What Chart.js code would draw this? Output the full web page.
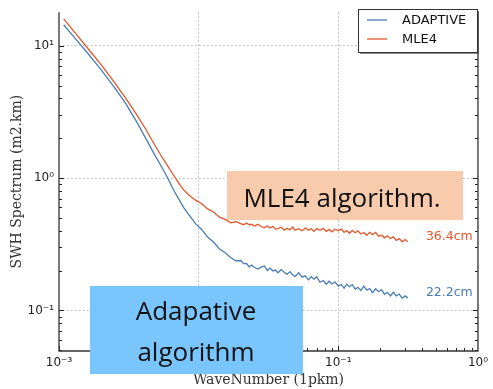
<!DOCTYPE html>
<html>
<head>
<meta charset="utf-8">
<script src="https://cdn.jsdelivr.net/npm/chart.js@4.4.1/dist/chart.umd.min.js"></script>
<style>
  html, body { margin: 0; padding: 0; background: #fff; }
  #wrap { width: 493px; height: 389px; }
</style>
</head>
<body>
<div id="wrap"><canvas id="spectrumChart" width="493" height="389"></canvas></div>
<script>
// wavenumber (1/km) and SWH spectra
const wavenumber = [0.00108,0.0013,0.0016,0.002,0.0025,0.003,0.0036,0.0042,0.0048,0.0054,
  0.006,0.0066,0.0072,0.0078,0.0086,0.0095,0.0105,0.0116,0.0128,0.0141,
  0.0155,0.017,0.0185,0.02,0.021,0.022,0.023,0.024,0.025,0.0265,
  0.028,0.0295,0.031,0.0325,0.034,0.0355,0.037,0.039,0.041,0.043,
  0.045,0.047,0.049,0.052,0.055,0.058,0.061,0.064,0.067,0.07,
  0.074,0.078,0.082,0.086,0.09,0.095,0.1,0.105,0.11,0.115,
  0.12,0.126,0.132,0.138,0.145,0.152,0.16,0.168,0.176,0.185,
  0.194,0.204,0.214,0.225,0.236,0.248,0.26,0.273,0.287,0.3,
  0.315];
const adaptive = [14.39,11.41,8.81,6.60,4.83,3.67,2.66,1.975,1.523,1.229,
  1.0,0.816,0.693,0.601,0.521,0.453,0.409,0.3584,0.3272,0.2916,
  0.2727,0.2498,0.2373,0.2385,0.2258,0.2262,0.2137,0.2204,0.2119,0.2055,
  0.2123,0.2167,0.2006,0.2090,0.1989,0.2017,0.1925,0.2037,0.1941,0.1873,
  0.1965,0.1863,0.1806,0.1928,0.1785,0.1825,0.1703,0.1799,0.1721,0.1797,
  0.1634,0.1683,0.1579,0.1663,0.1585,0.1640,0.1526,0.1571,0.1472,0.1579,
  0.1510,0.1568,0.1452,0.1495,0.1415,0.1529,0.1425,0.1464,0.1365,0.1457,
  0.1384,0.1437,0.1323,0.1372,0.1285,0.1370,0.1287,0.1330,0.1235,0.1289,
  0.1244];
const mle4 = [15.93,12.55,9.60,7.19,5.26,4.02,3.01,2.317,1.809,1.467,
  1.235,1.055,0.915,0.814,0.738,0.681,0.640,0.585,0.554,0.507,
  0.4868,0.4584,0.4678,0.4529,0.4444,0.4584,0.4429,0.4474,0.4338,0.4474,
  0.4308,0.4213,0.4338,0.4191,0.4323,0.4113,0.4148,0.4249,0.4043,0.4177,
  0.4064,0.4264,0.4036,0.4141,0.3995,0.4191,0.4043,0.4141,0.3954,0.4148,
  0.4029,0.4177,0.3961,0.4093,0.3927,0.4106,0.4002,0.4113,0.3887,0.4016,
  0.3827,0.4016,0.3867,0.3995,0.3781,0.3880,0.3697,0.3893,0.3736,0.3887,
  0.3640,0.3703,0.3535,0.3659,0.3493,0.3597,0.3381,0.3487,0.3301,0.3434,
  0.3307];

const seriesNames = ['ADAPTIVE', 'MLE4'];
const seriesColors = ['#4a7db3', '#e5562b'];
const endLabels = ['22.2cm', '36.4cm'];

const xDecades = [0.001, 0.01, 0.1, 1];
const yDecades = [0.01, 0.1, 1, 10];
const xTickLabels = ['10⁻³', '10⁻²', '10⁻¹', '10⁰'];
const yTickLabels = ['10⁻²', '10⁻¹', '10⁰', '10¹'];

function withMinors(decades) {
  const out = [];
  decades.forEach(d => { for (let m = 1; m <= 9; m++) out.push(+(d * m).toPrecision(3)); });
  return out;
}
function isMajor(v) {
  const l = Math.log10(v);
  return Math.abs(l - Math.round(l)) < 1e-6;
}

// inward tick marks, axis frame, legend, end labels, overlay boxes
const decorations = {
  id: 'decorations',
  afterDatasetsDraw(chart) {
    const { ctx, chartArea: a, scales } = chart;
    ctx.save();
    ctx.strokeStyle = '#222';
    ctx.lineWidth = 1;
    scales.y.ticks.forEach(t => {
      const y = Math.round(scales.y.getPixelForValue(t.value)) + 0.5;
      if (y < a.top || y > a.bottom) return;
      const len = isMajor(t.value) ? 5 : 3;
      ctx.beginPath();
      ctx.moveTo(a.left, y); ctx.lineTo(a.left + len, y);
      ctx.moveTo(a.right, y); ctx.lineTo(a.right - len, y);
      ctx.stroke();
    });
    scales.x.ticks.forEach(t => {
      const x = Math.round(scales.x.getPixelForValue(t.value)) + 0.5;
      if (x < a.left || x > a.right) return;
      const len = isMajor(t.value) ? 5 : 3;
      ctx.beginPath();
      ctx.moveTo(x, a.bottom); ctx.lineTo(x, a.bottom - len);
      ctx.stroke();
    });
    ctx.lineWidth = 1.3;
    ctx.strokeStyle = '#333';
    ctx.beginPath();
    ctx.moveTo(a.left, a.top); ctx.lineTo(a.left, a.bottom); ctx.lineTo(a.right, a.bottom); ctx.lineTo(a.right, a.top);
    ctx.stroke();

    // legend
    const lx = 358, ly = 9, lw = 119, lh = 43;
    ctx.fillStyle = 'rgba(60,60,60,0.6)';
    ctx.fillRect(lx + 2, ly + 2, lw, lh);
    ctx.fillStyle = '#fff';
    ctx.fillRect(lx, ly, lw, lh);
    ctx.strokeStyle = '#333';
    ctx.lineWidth = 1;
    ctx.strokeRect(lx + 0.5, ly + 0.5, lw, lh);
    ctx.font = '13px "DejaVu Sans"';
    ctx.textBaseline = 'middle';
    chart.data.datasets.forEach((ds, i) => {
      const yy = ly + 11 + i * 19;
      ctx.strokeStyle = ds.borderColor;
      ctx.lineWidth = 1.3;
      ctx.beginPath(); ctx.moveTo(lx + 9, yy); ctx.lineTo(lx + 29, yy); ctx.stroke();
      ctx.fillStyle = '#111';
      ctx.fillText(ds.label, lx + 44, yy + 1);
    });

    // end-of-line labels
    ctx.font = '12.5px "DejaVu Sans"';
    chart.data.datasets.forEach((ds, i) => {
      const last = ds.data[ds.data.length - 1];
      const px = scales.x.getPixelForValue(last.x) + 18;
      const py = scales.y.getPixelForValue(last.y) - 5;
      ctx.fillStyle = ds.borderColor;
      ctx.textAlign = 'left';
      ctx.fillText(endLabels[i], px, py);
    });
    ctx.restore();
  },
  afterDraw(chart) {
    const { ctx } = chart;
    ctx.save();
    ctx.fillStyle = '#f8cbad';
    ctx.fillRect(227, 171, 236, 49);
    ctx.fillStyle = '#79c5fe';
    ctx.fillRect(90, 286, 213, 88);
    ctx.fillStyle = '#111';
    ctx.font = '26px "Open Sans"';
    ctx.textAlign = 'center';
    ctx.textBaseline = 'alphabetic';
    ctx.fillText('MLE4 algorithm.', 342, 207);
    ctx.fillText('Adapative', 196, 320);
    ctx.fillText('algorithm', 196, 361);
    ctx.restore();
  }
};

const ctx = document.getElementById('spectrumChart').getContext('2d');
const spectrumChart = new Chart(ctx, {
  type: 'line',
  data: {
    datasets: [
      {
        label: seriesNames[0],
        data: wavenumber.map((k, i) => ({ x: k, y: adaptive[i] })),
        borderColor: seriesColors[0],
        borderWidth: 1.3,
        pointRadius: 0,
        tension: 0
      },
      {
        label: seriesNames[1],
        data: wavenumber.map((k, i) => ({ x: k, y: mle4[i] })),
        borderColor: seriesColors[1],
        borderWidth: 1.3,
        pointRadius: 0,
        tension: 0
      }
    ]
  },
  options: {
    responsive: false,
    animation: false,
    layout: { padding: { top: 8, right: 11, left: 0, bottom: 0 } },
    plugins: {
      legend: { display: false },
      tooltip: { enabled: false }
    },
    scales: {
      x: {
        type: 'logarithmic',
        min: 0.001,
        max: 1,
        afterBuildTicks: s => { s.ticks = withMinors(xDecades).filter(v => v >= 0.001 && v <= 1).map(v => ({ value: v })); },
        afterFit: s => { s.height = 38; },
        grid: {
          drawTicks: false,
          lineWidth: 1,
          color: c => (c.tick && isMajor(c.tick.value) && c.tick.value > 0.001 && c.tick.value < 1) ? '#b5b5b5' : 'rgba(0,0,0,0)'
        },
        border: { display: false, dash: [1.5, 2.5] },
        ticks: {
          autoSkip: false,
          maxRotation: 0,
          padding: 5,
          color: '#222',
          font: { family: 'DejaVu Sans', size: 12 },
          callback: v => { const i = xDecades.findIndex(d => Math.abs(d - v) < d * 1e-6); return i >= 0 ? xTickLabels[i] : ''; }
        },
        title: {
          display: true,
          text: 'WaveNumber (1pkm)',
          color: '#333',
          font: { family: 'DejaVu Serif', size: 14 },
          padding: { top: 0, bottom: 0 }
        }
      },
      y: {
        type: 'logarithmic',
        min: 0.0494,
        max: 17.9,
        afterBuildTicks: s => { s.ticks = withMinors(yDecades).filter(v => v >= 0.0494 && v <= 17.9).map(v => ({ value: v })); },
        afterFit: s => { s.width = 59; },
        grid: {
          drawTicks: false,
          lineWidth: 1,
          color: c => (c.tick && isMajor(c.tick.value)) ? '#b5b5b5' : 'rgba(0,0,0,0)'
        },
        border: { display: false, dash: [1.5, 2.5] },
        ticks: {
          autoSkip: false,
          padding: 5,
          color: '#222',
          font: { family: 'DejaVu Sans', size: 12 },
          callback: v => { const i = yDecades.findIndex(d => Math.abs(d - v) < d * 1e-6); return i >= 0 ? yTickLabels[i] : ''; }
        },
        title: {
          display: true,
          text: 'SWH Spectrum (m2.km)',
          color: '#333',
          font: { family: 'DejaVu Serif', size: 14 },
          padding: { top: 9, bottom: 0 }
        }
      }
    }
  },
  plugins: [decorations]
});
</script>
</body>
</html>
